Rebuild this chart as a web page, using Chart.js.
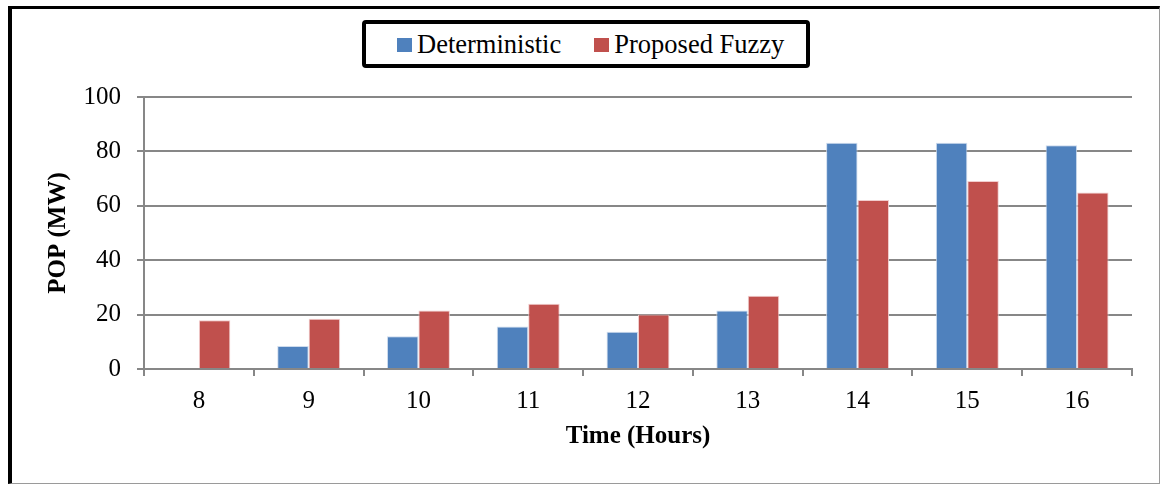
<!DOCTYPE html>
<html>
<head>
<meta charset="utf-8">
<script src="https://cdn.jsdelivr.net/npm/chart.js@4/dist/chart.umd.min.js"></script>
<style>
  html, body { margin: 0; padding: 0; background: #fff; }
  #wrap { position: relative; width: 1160px; height: 484px; overflow: hidden; }
  #frame {
    position: absolute; left: 8px; top: 6px; width: 1152px; height: 478px;
    box-sizing: border-box;
    border-left: 4px solid #000; border-top: 3px solid #000;
    border-right: 1px solid #9a9a9a; border-bottom: 1px solid #9a9a9a;
    pointer-events: none;
  }
  #legend {
    position: absolute; left: 362px; top: 20px; width: 448px; height: 48px;
    box-sizing: border-box; border: 4px solid #000; border-radius: 4px;
    padding-left: 31px;
    display: flex; align-items: center; justify-content: flex-start;
    font-family: "Liberation Serif", "Times New Roman", serif; font-size: 26.5px; color: #000;
    background: #fff; white-space: nowrap;
  }
  .item { display: flex; align-items: center; margin-right: 33px; }
  .swatch { width: 15px; height: 14px; margin-right: 5px; margin-top: 2px; flex: none; }
  canvas { position: absolute; left: 0; top: 0; }
</style>
</head>
<body>
<div id="wrap">
  <canvas id="c" width="1160" height="484"></canvas>
  <div id="frame"></div>
  <div id="legend"></div>
</div>
<script>
// Hours of the day on the x axis
const hours = ['8', '9', '10', '11', '12', '13', '14', '15', '16'];
// POP in MW per hour for each method
const deterministic = [0, 8.5, 12.0, 15.6, 13.7, 21.5, 83.2, 83.2, 82.3];
const proposedFuzzy = [17.9, 18.5, 21.5, 24.0, 20.0, 26.9, 62.1, 69.1, 64.9];
const seriesNames = ['Deterministic', 'Proposed Fuzzy'];
const yTicks = [0, 20, 40, 60, 80, 100];

const serif = '"Liberation Serif", "Times New Roman", serif';
const gridGray = '#878787';

const chart = new Chart(document.getElementById('c'), {
  type: 'bar',
  data: {
    labels: hours,
    datasets: [
      {
        label: seriesNames[0],
        data: deterministic,
        backgroundColor: '#4F81BD',
        borderColor: 'rgba(200,215,235,0.9)',
        borderWidth: 1
      },
      {
        label: seriesNames[1],
        data: proposedFuzzy,
        backgroundColor: '#C0504D',
        borderColor: 'rgba(240,200,200,0.9)',
        borderWidth: 1
      }
    ]
  },
  options: {
    responsive: false,
    animation: false,
    devicePixelRatio: 1,
    layout: { padding: { top: 97, left: 20, right: 28, bottom: 30 } },
    plugins: {
      legend: { display: false },
      tooltip: { enabled: false }
    },
    datasets: {
      bar: { categoryPercentage: 0.573, barPercentage: 1.0 }
    },
    scales: {
      x: {
        afterFit: s => { s.height = 85; },
        grid: {
          offset: true,
          drawOnChartArea: false,
          drawTicks: true,
          tickLength: 7,
          color: gridGray,
          lineWidth: 2
        },
        border: { color: gridGray, width: 2 },
        ticks: {
          color: '#000',
          padding: 10,
          font: { family: serif, size: 25 }
        },
        title: {
          display: true,
          text: 'Time (Hours)',
          color: '#000',
          padding: { top: 0, bottom: 2 },
          font: { family: serif, size: 25, weight: 'bold' }
        }
      },
      y: {
        min: 0,
        max: 100,
        afterFit: s => { s.width = 124; },
        afterBuildTicks: s => { s.ticks = yTicks.map(v => ({ value: v })); },
        grid: {
          color: gridGray,
          lineWidth: 2,
          drawTicks: true,
          tickLength: 7
        },
        border: { color: gridGray, width: 2 },
        ticks: {
          color: '#000',
          padding: 16,
          font: { family: serif, size: 25 }
        },
        title: {
          display: true,
          text: 'POP (MW)',
          color: '#000',
          padding: { top: 24, bottom: 0 },
          font: { family: serif, size: 25, weight: 'bold' }
        }
      }
    }
  }
});

// Boxed legend built from the chart's datasets
const legend = document.getElementById('legend');
chart.data.datasets.forEach(ds => {
  const item = document.createElement('div');
  item.className = 'item';
  const sw = document.createElement('span');
  sw.className = 'swatch';
  sw.style.background = ds.backgroundColor;
  const txt = document.createElement('span');
  txt.textContent = ds.label;
  item.appendChild(sw);
  item.appendChild(txt);
  legend.appendChild(item);
});
</script>
</body>
</html>
